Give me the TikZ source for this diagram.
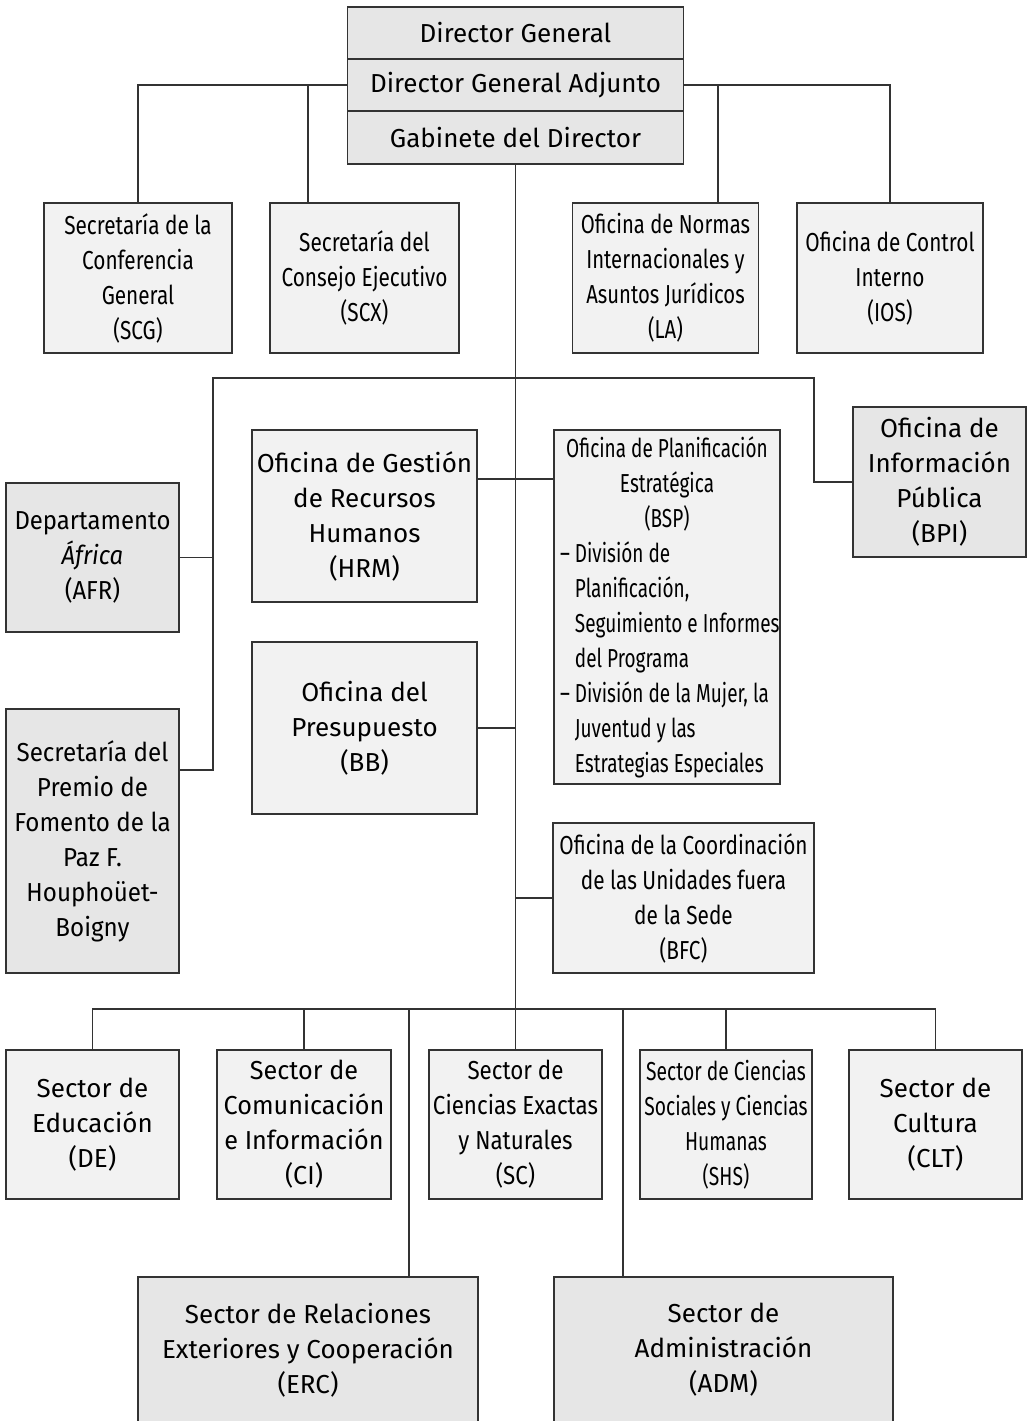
\documentclass[tikz,border=0pt]{standalone}
\usepackage{fontspec}
\setmainfont{Fira Sans}
\usepackage{tikz}
\usetikzlibrary{positioning}
\definecolor{linegray}{HTML}{333333}
\definecolor{darkfill}{HTML}{E6E6E6}
\definecolor{lightfill}{HTML}{F2F2F2}
\tikzstyle{office} = [rectangle, draw=linegray, line width=1.5pt, fill=lightfill, align=center, inner sep=0pt, outer sep=0pt, font={\fontsize{26}{35}\selectfont}]
\tikzstyle{mainoffice} = [office, fill=darkfill]
\tikzset{squeeze/.style={font={\fontspec[FakeStretch=#1]{Fira Sans}\fontsize{26}{35}\selectfont}}}
\tikzstyle{link} = [line width=1.4pt, draw=linegray]
\newcommand{\bspline}[1]{\makebox[214pt][l]{#1}}

\begin{document}
\begin{tikzpicture}[x=1pt, y=-1pt, node distance=0pt]
\useasboundingbox (0,0) rectangle (1028,1421);

			\node (dg) [mainoffice, minimum width=336pt, minimum height=52pt] at (515.5,33) {Director General};
			\node (adj) [mainoffice, minimum width=336pt, minimum height=52pt, below=of dg] {Director General Adjunto};
			\node (gab) [mainoffice, minimum width=336pt, minimum height=53pt, below=of adj] {Gabinete del Director};

			\node (scg) [office, squeeze=0.8, minimum width=188pt, minimum height=150pt] at (138,278) {Secretaría de la\\Conferencia\\General\\(SCG)};
			\node (scx) [office, squeeze=0.8, minimum width=189pt, minimum height=150pt] at (364.5,278) {Secretaría del\\Consejo Ejecutivo\\(SCX)};
			\node (la) [office, squeeze=0.78, minimum width=186pt, minimum height=150pt] at (665.5,278) {Oficina de Normas\\Internacionales y\\Asuntos Jurídicos\\(LA)};
			\node (ios) [office, squeeze=0.8, minimum width=186pt, minimum height=150pt] at (890,278) {Oficina de Control\\Interno\\(IOS)};

			\node (afr) [mainoffice, squeeze=0.92, minimum width=173pt, minimum height=149pt] at (92.5,557.5) {Departamento\\\textit{África}\\(AFR)};
			\node (premio) [mainoffice, squeeze=0.93, minimum width=173pt, minimum height=264pt] at (92.5,841) {Secretaría del\\Premio de\\Fomento de la\\Paz F.\\Houphoüet-\\Boigny};
			\node (hrm) [office, minimum width=225pt, minimum height=172pt] at (364.5,516) {Oficina de Gestión\\de Recursos\\Humanos\\(HRM)};
			\node (bb) [office, minimum width=225pt, minimum height=172pt] at (364.5,728) {Oficina del\\Presupuesto\\(BB)};
			\node (bsp) [office, squeeze=0.73, minimum width=226pt, minimum height=354pt] at (667,607) {Oficina de Planificación\\Estratégica\\(BSP)\\
				\bspline{– División de}\\\bspline{\hphantom{– }Planificación,}\\\bspline{\hphantom{– }Seguimiento e Informes}\\\bspline{\hphantom{– }del Programa}\\
				\bspline{– División de la Mujer, la}\\\bspline{\hphantom{– }Juventud y las}\\\bspline{\hphantom{– }Estrategias Especiales}};
			\node (bpi) [mainoffice, minimum width=173pt, minimum height=150pt] at (939.5,482) {Oficina de\\Información\\Pública\\(BPI)};
			\node (bfc) [office, squeeze=0.8, minimum width=261pt, minimum height=150pt] at (683.5,898) {Oficina de la Coordinación\\de las Unidades fuera\\de la Sede\\(BFC)};

			\node (de) [office, minimum width=173pt, minimum height=149pt] at (92.5,1124.5) {Sector de\\Educación\\(DE)};
			\node (ci) [office, squeeze=0.97, minimum width=174pt, minimum height=149pt] at (304,1124.5) {Sector de\\Comunicación\\e Información\\(CI)};
			\node (sc) [office, squeeze=0.86, minimum width=173pt, minimum height=149pt] at (515.5,1124.5) {Sector de\\Ciencias Exactas\\y Naturales\\(SC)};
			\node (shs) [office, squeeze=0.74, minimum width=172pt, minimum height=149pt] at (726,1124.5) {Sector de Ciencias\\Sociales y Ciencias\\Humanas\\(SHS)};
			\node (clt) [office, minimum width=173pt, minimum height=149pt] at (935.5,1124.5) {Sector de\\Cultura\\(CLT)};

			\node (erc) [mainoffice, minimum width=340pt, minimum height=146pt] at (308,1350) {Sector de Relaciones\\Exteriores y Cooperación\\(ERC)};
			\node (adm) [mainoffice, minimum width=339pt, minimum height=146pt] at (723.5,1350) {Sector de\\Administración\\(ADM)};

			\coordinate (scxtap) at (308,203);
			\coordinate (latap) at (718,203);
			\coordinate (lbus) at (213,378);
			\coordinate (rbus) at (814,378);
			\coordinate (premiotap) at (179,770);
			\coordinate (hrmtap) at (477,479);
			\coordinate (bbus) at (515.5,1009);
			\coordinate (erctap) at (409,1277);
			\coordinate (admtap) at (623,1277);

			\draw [link] (adj.west) -| (scg.north);
			\draw [link] (scxtap) -- (scxtap |- adj.west);
			\draw [link] (adj.east) -| (ios.north);
			\draw [link] (latap) -- (latap |- adj.east);

			\draw [link] (gab.south) -- (sc.north);
			\draw [link] (premiotap) -| (lbus) -- (rbus) |- (bpi.west);
			\draw [link] (afr.east) -- (afr.east -| lbus);
			\draw [link] (hrmtap) -- (hrmtap -| bsp.west);
			\draw [link] (bb.east) -- (bb.east -| gab.south);
			\draw [link] (bfc.west) -- (bfc.west -| gab.south);

			\draw [link] (de.north) |- (bbus) -| (clt.north);
			\draw [link] (ci.north) -- (ci.north |- bbus);
			\draw [link] (shs.north) -- (shs.north |- bbus);
			\draw [link] (erctap) -- (erctap |- bbus);
			\draw [link] (admtap) -- (admtap |- bbus);

\end{tikzpicture}
\end{document}
